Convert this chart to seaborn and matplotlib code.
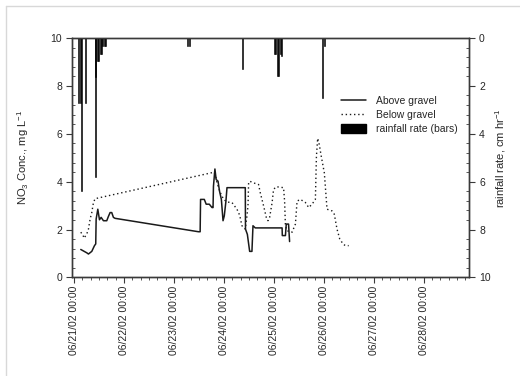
import numpy as np
import pandas as pd
import matplotlib
matplotlib.use("Agg")
import matplotlib.pyplot as plt
import matplotlib.dates as mdates
from matplotlib.lines import Line2D
from matplotlib.patches import Patch
import seaborn as sns

sns.set_style("white")
plt.rcParams['font.family'] = ['Liberation Sans', 'DejaVu Sans']
plt.rcParams['mathtext.fontset'] = 'custom'
plt.rcParams['mathtext.rm'] = 'Liberation Sans'
plt.rcParams['mathtext.it'] = 'Liberation Sans'
plt.rcParams['mathtext.default'] = 'regular'

start = pd.Timestamp("2002-06-21 00:00")

# hours since 06/21/02 00:00 and NO3 concentration, mg/L
above_hours = [3.2, 6.1, 6.9, 8.5, 9.8, 10.4, 10.6, 11.4, 12.2, 13.0, 14.1, 15.7, 16.5, 17.3,
               18.1, 18.9, 19.7, 59.8, 60.6, 60.8, 62.6, 63.5, 65.0, 66.3, 66.8, 67.0, 67.7,
               68.3, 69.2, 69.9, 70.8, 71.6, 72.2, 73.0, 73.5, 82.3, 82.4, 83.3, 84.4, 85.5,
               86.0, 87.1, 100.0, 100.1, 101.6, 102.0, 103.1, 103.6]
above_no3 = [1.17, 1.03, 0.98, 1.09, 1.33, 1.40, 2.44, 2.85, 2.41, 2.51, 2.37, 2.37, 2.55, 2.71,
             2.71, 2.51, 2.47, 1.91, 1.91, 3.26, 3.26, 3.06, 3.06, 2.92, 2.92, 3.81, 4.53,
             4.09, 4.02, 3.61, 3.26, 2.37, 2.57, 3.19, 3.75, 3.75, 2.02, 1.80, 1.09, 1.09,
             2.16, 2.07, 2.07, 1.75, 1.75, 2.23, 2.23, 1.50]

below_hours = [3.2, 4.2, 4.8, 6.1, 6.9, 7.7, 8.5, 9.3, 10.1, 67.0, 67.9, 68.7, 70.3, 71.9,
               73.5, 75.9, 78.3, 79.6, 80.7, 82.3, 83.1, 83.6, 83.9, 84.4, 86.3, 88.7, 89.5,
               91.1, 92.4, 93.2, 94.0, 95.2, 95.9, 97.2, 100.7, 101.2, 101.6, 102.4, 104.8,
               106.4, 107.2, 108.8, 111.2, 112.8, 114.4, 116.0, 116.5, 117.1, 117.9, 118.7,
               120.3, 121.6, 124.0, 125.1, 126.4, 127.7, 129.3, 130.4, 132.0]
below_no3 = [1.89, 1.78, 1.64, 1.82, 2.02, 2.44, 2.71, 3.13, 3.29, 4.39, 4.30, 3.95, 3.54, 3.26,
             3.15, 3.13, 2.85, 2.60, 2.16, 2.02, 2.57, 2.99, 3.95, 4.02, 3.95, 3.88, 3.54,
             2.99, 2.51, 2.37, 2.51, 3.13, 3.68, 3.79, 3.75, 3.19, 2.16, 1.95, 1.89,
             2.23, 3.19, 3.26, 3.13, 2.92, 3.06, 3.26, 5.05, 5.81, 5.54, 5.12,
             4.37, 2.85, 2.78, 2.64, 2.02, 1.61, 1.40, 1.33, 1.33]

# rainfall rate, cm/hr
rain_hours = [1.9, 2.9, 3.5, 5.3, 10.1, 10.5, 11.3, 11.8, 12.5, 13.0, 13.7, 14.7, 15.2,
              54.4, 55.3, 80.9, 96.3, 97.0, 97.7, 98.4, 99.1, 99.9, 119.4, 120.3]
rain_rate = [2.7, 2.7, 6.4, 2.7, 1.65, 5.8, 0.95, 0.95, 0.65, 0.65, 0.35, 0.35, 0.35,
             0.35, 0.35, 1.3, 0.65, 0.65, 1.6, 1.6, 0.65, 0.75, 2.5, 0.35]

above_t = start + pd.to_timedelta(above_hours, unit="h")
below_t = start + pd.to_timedelta(below_hours, unit="h")
rain_t = start + pd.to_timedelta(rain_hours, unit="h")

fig = plt.figure(figsize=(5.2, 3.76), dpi=100)
ax = fig.add_axes([0.1385, 0.262, 0.764, 0.637])
ax2 = ax.twinx()

sns.lineplot(x=above_t, y=above_no3, ax=ax, color="#1a1a1a", lw=1.1)
sns.lineplot(x=below_t, y=below_no3, ax=ax, color="#1a1a1a", lw=1.0, linestyle=(0, (1, 2)))
ax2.bar(rain_t, rain_rate, width=0.018, color="black", edgecolor="black", linewidth=0.4,
        align="center")

ax.set_xlim(start - pd.Timedelta(hours=1), start + pd.Timedelta(days=7, hours=22))
ax.set_ylim(0, 10)
ax2.set_ylim(10, 0)

ax.xaxis.set_major_locator(mdates.DayLocator())
ax.xaxis.set_minor_locator(mdates.HourLocator(byhour=range(0, 24, 4)))
ax.xaxis.set_major_formatter(mdates.DateFormatter("%m/%d/%y %H:%M"))
ax.set_yticks(np.arange(0, 11, 2))
ax.set_yticks(np.arange(0, 10.01, 0.4), minor=True)
ax2.set_yticks(np.arange(0, 11, 2))
ax2.set_yticks(np.arange(0, 10.01, 0.4), minor=True)

for a in (ax, ax2):
    for s in a.spines.values():
        s.set_color("#3a3a3a")
        s.set_linewidth(1.0)

ax.tick_params(axis="x", which="major", direction="out", length=4, width=0.8,
               color="#3a3a3a", labelsize=7.5, rotation=90, pad=2, bottom=True)
ax.tick_params(axis="x", which="minor", direction="out", length=2.5, width=0.6,
               color="#3a3a3a", bottom=True)
ax.tick_params(axis="y", which="major", direction="out", length=4, width=0.8,
               color="#3a3a3a", labelsize=7.5, left=True, pad=3)
ax.tick_params(axis="y", which="minor", direction="in", length=2.5, width=0.6,
               color="#3a3a3a", left=True)
ax2.tick_params(axis="y", which="major", direction="out", length=4, width=0.8,
                color="#3a3a3a", labelsize=7.5, right=True, pad=3)
ax2.tick_params(axis="y", which="minor", direction="in", length=2.5, width=0.6,
                color="#3a3a3a", right=True)
for lab in ax.get_xticklabels():
    lab.set_rotation(90)
    lab.set_ha("center")
    lab.set_va("top")

ax.set_xlabel("")
ax.set_ylabel("NO$_3$ Conc., mg L$^{-1}$", fontsize=8, labelpad=14)
ax2.set_ylabel("rainfall rate, cm hr$^{-1}$", fontsize=8, labelpad=2)
ax.grid(False)
ax2.grid(False)

handles = [Line2D([], [], color="#1a1a1a", lw=1.1),
           Line2D([], [], color="#1a1a1a", lw=1.0, linestyle=(0, (1, 2))),
           Patch(facecolor="black", edgecolor="black")]
labels = ["Above gravel", "Below gravel", "rainfall rate (bars)"]
ax2.legend(handles, labels, loc="upper left", bbox_to_anchor=(0.678, 0.757), frameon=False,
           fontsize=7.5, handlelength=2.4, handleheight=0.9, labelspacing=0.38,
           handletextpad=0.9, borderpad=0, borderaxespad=0)

# light frame of the original page
fig.add_artist(Line2D([6 / 520, 6 / 520], [0, 1 - 6 / 376], color="#d8d8d8", lw=1))
fig.add_artist(Line2D([6 / 520, 1], [1 - 6 / 376, 1 - 6 / 376], color="#d8d8d8", lw=1))

fig.savefig("out.png", dpi=100)
